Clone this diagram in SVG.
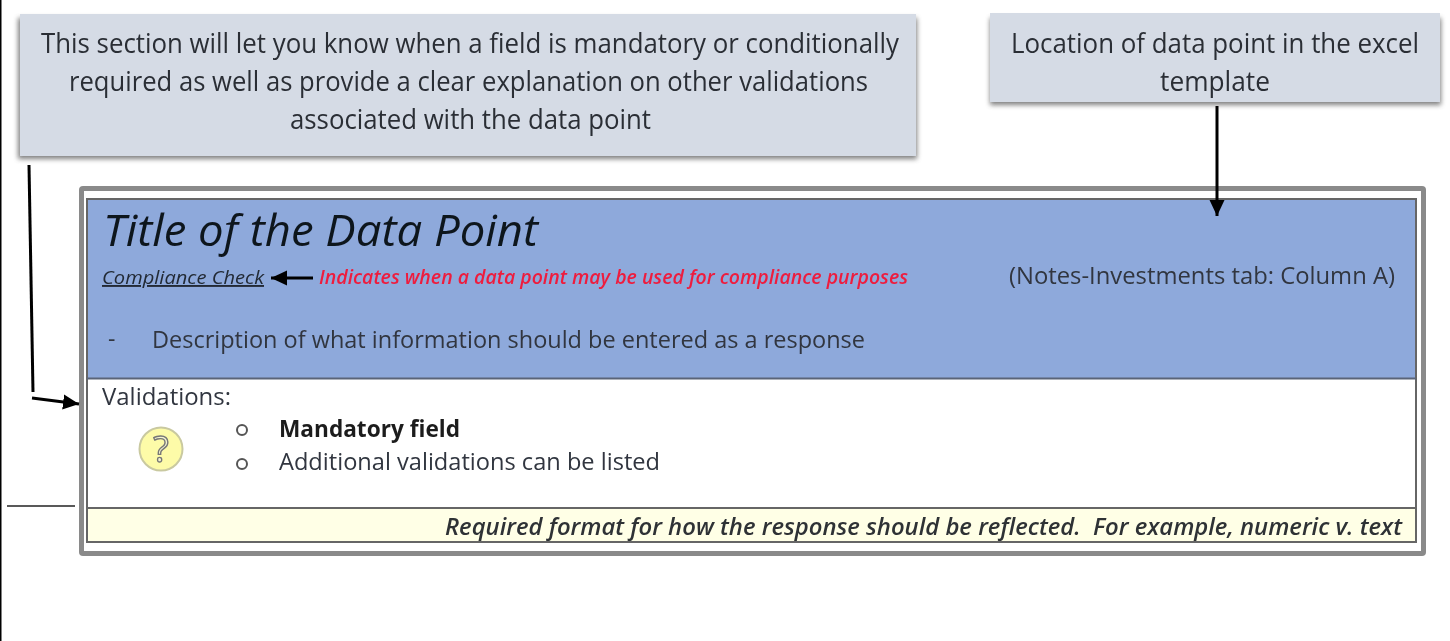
<svg xmlns="http://www.w3.org/2000/svg" width="1450" height="641" viewBox="0 0 1450 641">
<defs>
<filter id="soft" x="-2%" y="-10%" width="104%" height="120%"><feGaussianBlur stdDeviation="0.6"/></filter>
<filter id="shadow" x="-3%" y="-10%" width="106%" height="125%"><feGaussianBlur stdDeviation="2.500"/></filter>
<marker id="ah" markerUnits="userSpaceOnUse" markerWidth="20" markerHeight="20" refX="16" refY="10" orient="auto"><path d="M0 2.500 L16 10 L0 17.500 Z" fill="#000"/></marker>
</defs>
<style>
text{font-family:"Open Sans","Noto Sans","Liberation Sans",sans-serif;fill:#222a35}
.call{font-size:26.500px;fill:#2b2f36}
.body{font-size:23px;fill:#30363f}
.conn{stroke:#000;stroke-width:3;fill:none}
</style>
<rect width="1450" height="641" fill="#fff"/>
<rect x="0" y="0" width="1.500" height="641" fill="#000"/>
<g id="callout-validations">
<rect x="18" y="18" width="899" height="141" fill="#555" opacity=".75" filter="url(#shadow)"/>
<rect x="20" y="14" width="896" height="142" fill="#d5dbe5"/>
<g filter="url(#soft)">
<text class="call" x="41" y="53" textLength="858" lengthAdjust="spacingAndGlyphs">This section will let you know when a field is mandatory or conditionally</text>
<text class="call" x="69" y="91" textLength="799" lengthAdjust="spacingAndGlyphs">required as well as provide a clear explanation on other validations</text>
<text class="call" x="290" y="129" textLength="361" lengthAdjust="spacingAndGlyphs">associated with the data point</text>
</g>
</g>
<g id="callout-location">
<rect x="990" y="18" width="451" height="87" fill="#555" opacity=".75" filter="url(#shadow)"/>
<rect x="990" y="13" width="450" height="89" fill="#d5dbe5"/>
<g filter="url(#soft)">
<text class="call" x="1011" y="53" textLength="408" lengthAdjust="spacingAndGlyphs">Location of data point in the excel</text>
<text class="call" x="1160" y="91" textLength="110" lengthAdjust="spacingAndGlyphs">template</text>
</g>
</g>
<g id="data-point-card">
<rect x="79" y="186" width="1347" height="370" rx="4" fill="#8a8a8a" filter="url(#soft)"/>
<rect x="84" y="191" width="1337" height="360" fill="#fff"/>
<rect x="87" y="199" width="1329" height="343" fill="#fff" stroke="#666" stroke-width="2"/>
</g>
<g id="header">
<rect x="88" y="200" width="1327" height="178" fill="#8ea9db"/>
<line x1="87" y1="378.500" x2="1416" y2="378.500" stroke="#5a6478" stroke-width="2"/>
<g filter="url(#soft)">
<text x="103" y="246" font-size="43" font-style="italic" style="fill:#10151f" textLength="435" lengthAdjust="spacingAndGlyphs">Title of the Data Point</text>
<text x="102" y="284" font-size="19" font-style="italic" text-decoration="underline" textLength="162" lengthAdjust="spacingAndGlyphs">Compliance Check</text>
<text x="319" y="284" font-size="19.500" font-style="italic" font-weight="600" style="fill:#ee1c3e" textLength="589" lengthAdjust="spacingAndGlyphs">Indicates when a data point may be used for compliance purposes</text>
<text class="body" x="1009" y="284" textLength="386" lengthAdjust="spacingAndGlyphs">(Notes-Investments tab: Column A)</text>
<text class="body" x="108" y="347">-</text>
<text class="body" x="152" y="348" textLength="713" lengthAdjust="spacingAndGlyphs">Description of what information should be entered as a response</text>
</g>
</g>
<g id="validations">
<g filter="url(#soft)">
<text class="body" x="102" y="405" textLength="129" lengthAdjust="spacingAndGlyphs">Validations:</text>
<text class="body" x="279" y="437" font-weight="700" style="fill:#1c1c1c" textLength="181" lengthAdjust="spacingAndGlyphs">Mandatory field</text>
<text class="body" x="279" y="470" textLength="381" lengthAdjust="spacingAndGlyphs">Additional validations can be listed</text>
<circle cx="242" cy="430" r="5" fill="#fff" stroke="#555" stroke-width="2"/>
<circle cx="242" cy="464" r="5" fill="#fff" stroke="#555" stroke-width="2"/>
</g>
</g>
<g id="help-icon" filter="url(#soft)">
<circle cx="161" cy="449" r="21.500" fill="#fdfba8" stroke="#c9c9a0" stroke-width="2"/>
<text x="161" y="462" font-size="36" text-anchor="middle" style="fill:#f5f5d0;stroke:#777;stroke-width:1.400">?</text>
</g>
<g id="format-row">
<rect x="88" y="509" width="1327" height="32" fill="#ffffe6"/>
<line x1="87" y1="508" x2="1416" y2="508" stroke="#666" stroke-width="2"/>
<text x="445" y="535" font-size="23" font-style="italic" font-weight="600" filter="url(#soft)" style="fill:#2f3236;white-space:pre" textLength="957" lengthAdjust="spacingAndGlyphs">Required format for how the response should be reflected.  For example, numeric v. text</text>
</g>
<g id="connectors">
<line class="conn" x1="1217" y1="106" x2="1217" y2="216" marker-end="url(#ah)"/>
<line class="conn" x1="29" y1="165" x2="33" y2="392"/>
<line class="conn" x1="32" y1="398" x2="79" y2="404" marker-end="url(#ah)"/>
<line class="conn" x1="313" y1="278" x2="271" y2="278" marker-end="url(#ah)"/>
<line x1="7" y1="506" x2="75" y2="506" stroke="#222" stroke-width="1.500"/>
</g>
</svg>
